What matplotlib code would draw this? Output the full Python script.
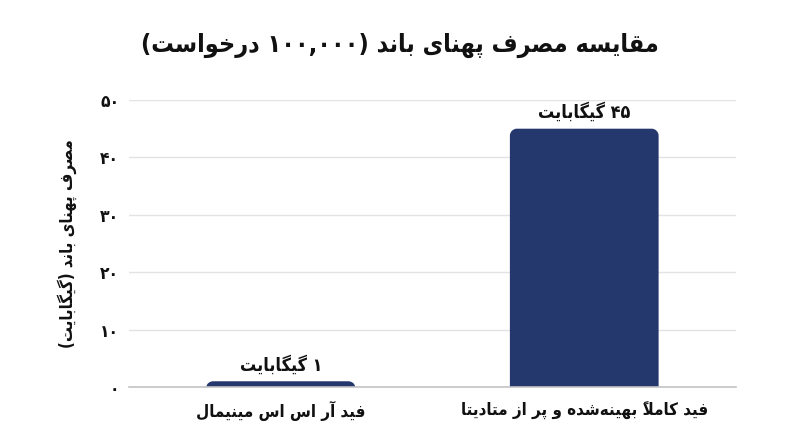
import matplotlib
matplotlib.use("Agg")
import matplotlib.pyplot as plt
from matplotlib.path import Path
from matplotlib.patches import PathPatch
from matplotlib.ticker import FuncFormatter, MultipleLocator

# ---------------- data ----------------
categories = ["فید آر اس اس مینیمال", "فید کاملاً بهینه‌شده و پر از متادیتا"]
values = [1, 45]
value_labels = ["۱ گیگابایت", "۴۵ گیگابایت"]
title_text = "مقایسه مصرف پهنای باند (۱۰۰,۰۰۰ درخواست)"
ylabel_text = "مصرف پهنای باند (گیگابایت)"
y_max = 50
y_step = 10

# ------------- minimal Persian shaping + bidi -------------
FORMS = {
    "\u0627": ("\uFE8D", "\uFE8E", None, None),
    "\u0622": ("\uFE81", "\uFE82", None, None),
    "\u062F": ("\uFEA9", "\uFEAA", None, None),
    "\u0630": ("\uFEAB", "\uFEAC", None, None),
    "\u0631": ("\uFEAD", "\uFEAE", None, None),
    "\u0632": ("\uFEAF", "\uFEB0", None, None),
    "\u0698": ("\uFB8A", "\uFB8B", None, None),
    "\u0648": ("\uFEED", "\uFEEE", None, None),
    "\u0628": ("\uFE8F", "\uFE90", "\uFE91", "\uFE92"),
    "\u067E": ("\uFB56", "\uFB57", "\uFB58", "\uFB59"),
    "\u062A": ("\uFE95", "\uFE96", "\uFE97", "\uFE98"),
    "\u062B": ("\uFE99", "\uFE9A", "\uFE9B", "\uFE9C"),
    "\u062C": ("\uFE9D", "\uFE9E", "\uFE9F", "\uFEA0"),
    "\u0686": ("\uFB7A", "\uFB7B", "\uFB7C", "\uFB7D"),
    "\u062D": ("\uFEA1", "\uFEA2", "\uFEA3", "\uFEA4"),
    "\u062E": ("\uFEA5", "\uFEA6", "\uFEA7", "\uFEA8"),
    "\u0633": ("\uFEB1", "\uFEB2", "\uFEB3", "\uFEB4"),
    "\u0634": ("\uFEB5", "\uFEB6", "\uFEB7", "\uFEB8"),
    "\u0635": ("\uFEB9", "\uFEBA", "\uFEBB", "\uFEBC"),
    "\u0636": ("\uFEBD", "\uFEBE", "\uFEBF", "\uFEC0"),
    "\u0637": ("\uFEC1", "\uFEC2", "\uFEC3", "\uFEC4"),
    "\u0638": ("\uFEC5", "\uFEC6", "\uFEC7", "\uFEC8"),
    "\u0639": ("\uFEC9", "\uFECA", "\uFECB", "\uFECC"),
    "\u063A": ("\uFECD", "\uFECE", "\uFECF", "\uFED0"),
    "\u0641": ("\uFED1", "\uFED2", "\uFED3", "\uFED4"),
    "\u0642": ("\uFED5", "\uFED6", "\uFED7", "\uFED8"),
    "\u06A9": ("\uFB8E", "\uFB8F", "\uFB90", "\uFB91"),
    "\u06AF": ("\uFB92", "\uFB93", "\uFB94", "\uFB95"),
    "\u0644": ("\uFEDD", "\uFEDE", "\uFEDF", "\uFEE0"),
    "\u0645": ("\uFEE1", "\uFEE2", "\uFEE3", "\uFEE4"),
    "\u0646": ("\uFEE5", "\uFEE6", "\uFEE7", "\uFEE8"),
    "\u0647": ("\uFEE9", "\uFEEA", "\uFEEB", "\uFEEC"),
    "\u06CC": ("\uFBFC", "\uFBFD", "\uFBFE", "\uFBFF"),
}
LAM_ALEF = {"\u0627": ("\uFEFB", "\uFEFC"), "\u0622": ("\uFEF5", "\uFEF6")}


def is_mark(c):
    return "\u064B" <= c <= "\u0652"


def is_dual(c):
    return c in FORMS and FORMS[c][2] is not None


def shape(s):
    chars = list(s)
    n = len(chars)

    def prev_base(i):
        j = i - 1
        while j >= 0 and is_mark(chars[j]):
            j -= 1
        return chars[j] if j >= 0 else None

    def next_base(i):
        j = i + 1
        while j < n and is_mark(chars[j]):
            j += 1
        return (chars[j], j) if j < n else (None, None)

    out = []
    i = 0
    while i < n:
        c = chars[i]
        if c not in FORMS:
            if c != "\u200C":
                out.append(c)
            i += 1
            continue
        p = prev_base(i)
        joins_prev = p is not None and is_dual(p)
        nb, nj = next_base(i)
        if c == "\u0644" and nb in LAM_ALEF:
            out.append(LAM_ALEF[nb][1 if joins_prev else 0])
            for k in range(i + 1, nj):
                out.append(chars[k])
            i = nj + 1
            continue
        joins_next = is_dual(c) and nb is not None and nb in FORMS
        iso, fin, ini, med = FORMS[c]
        if joins_prev and joins_next:
            out.append(med)
        elif joins_prev:
            out.append(fin)
        elif joins_next:
            out.append(ini)
        else:
            out.append(iso)
        i += 1
    return "".join(out)


def is_digitlike(c):
    return c.isdigit() or ("\u06F0" <= c <= "\u06F9")


def rtl(s):
    sh = shape(s)
    tokens = []
    i = 0
    while i < len(sh):
        c = sh[i]
        if is_digitlike(c):
            j = i
            while j < len(sh) and (is_digitlike(sh[j]) or (sh[j] in ",." and j + 1 < len(sh) and is_digitlike(sh[j + 1]))):
                j += 1
            tokens.append(sh[i:j])
            i = j
        elif is_mark(c) and tokens:
            tokens[-1] = c + tokens[-1]
            i += 1
        else:
            tokens.append(c)
            i += 1
    mirror = {"(": ")", ")": "(", "[": "]", "]": "["}
    tokens = [mirror.get(t, t) for t in reversed(tokens)]
    return "".join(tokens)


def to_fa_digits(v):
    return str(v).translate(str.maketrans("0123456789", "۰۱۲۳۴۵۶۷۸۹"))


# ---------------- plotting ----------------
plt.rcParams["font.family"] = ["DejaVu Sans"]
plt.rcParams["font.weight"] = "bold"
plt.rcParams["font.stretch"] = "condensed"

BAR_COLOR = "#24386e"
TEXT_COLOR = "#111111"

fig = plt.figure(figsize=(8.0, 4.47), dpi=100)
W, H = 800, 447
ax = fig.add_axes([129 / W, 1 - 387 / H, (736 - 129) / W, (387 - 100) / H])

x = list(range(len(categories)))
bar_w = 0.49
bars = ax.bar(x, values, width=bar_w, color=BAR_COLOR, zorder=3)

ax.set_xlim(-0.5, len(categories) - 0.5)
ax.set_ylim(0, y_max)

# rounded top corners
fig.canvas.draw()
px_per_x = ax.transData.transform((1, 0))[0] - ax.transData.transform((0, 0))[0]
px_per_y = ax.transData.transform((0, 1))[1] - ax.transData.transform((0, 0))[1]
r_px = 7
for rect in bars:
    x0, y0 = rect.get_x(), rect.get_y()
    w, h = rect.get_width(), rect.get_height()
    rx = r_px / px_per_x
    ry = min(r_px / px_per_y, h)
    k = 0.5523
    verts = [
        (x0, y0),
        (x0, y0 + h - ry),
        (x0, y0 + h - ry + k * ry), (x0 + rx - k * rx, y0 + h), (x0 + rx, y0 + h),
        (x0 + w - rx, y0 + h),
        (x0 + w - rx + k * rx, y0 + h), (x0 + w, y0 + h - ry + k * ry), (x0 + w, y0 + h - ry),
        (x0 + w, y0),
        (x0, y0),
    ]
    codes = [Path.MOVETO, Path.LINETO,
             Path.CURVE4, Path.CURVE4, Path.CURVE4,
             Path.LINETO,
             Path.CURVE4, Path.CURVE4, Path.CURVE4,
             Path.LINETO, Path.CLOSEPOLY]
    rect.set_visible(False)
    ax.add_patch(PathPatch(Path(verts, codes), facecolor=BAR_COLOR, edgecolor="none", zorder=3))

# grid & spines
ax.yaxis.set_major_locator(MultipleLocator(y_step))
ax.yaxis.set_major_formatter(FuncFormatter(lambda v, pos: to_fa_digits(int(round(v)))))
ax.grid(axis="y", color="#e3e3e3", linewidth=1.0, zorder=0)
ax.set_axisbelow(True)
for s in ["top", "right", "left"]:
    ax.spines[s].set_visible(False)
ax.spines["bottom"].set_color("#c4c4c4")
ax.spines["bottom"].set_linewidth(1.2)
ax.spines["bottom"].set_zorder(4)

ax.tick_params(axis="y", length=0, pad=7, labelsize=12.5, labelcolor=TEXT_COLOR)
ax.tick_params(axis="x", length=0, pad=10, labelsize=12.2, labelcolor=TEXT_COLOR)
ax.set_xticks(x)
ax.set_xticklabels([rtl(c) for c in categories], fontweight="bold")
for lab in ax.get_yticklabels():
    lab.set_fontweight("bold")

ax.set_ylabel(rtl(ylabel_text), fontsize=12, fontweight="bold", color=TEXT_COLOR, labelpad=17)

for xi, v, lab in zip(x, values, value_labels):
    ax.annotate(rtl(lab), (xi, v), xytext=(0, 5), textcoords="offset points",
                ha="center", va="bottom", fontsize=13, fontweight="bold", color=TEXT_COLOR)

fig.text(0.5, 1 - 45 / H, rtl(title_text), ha="center", va="center",
         fontsize=18, fontweight="bold", color=TEXT_COLOR)

fig.savefig("out.png", dpi=100, facecolor="white")
